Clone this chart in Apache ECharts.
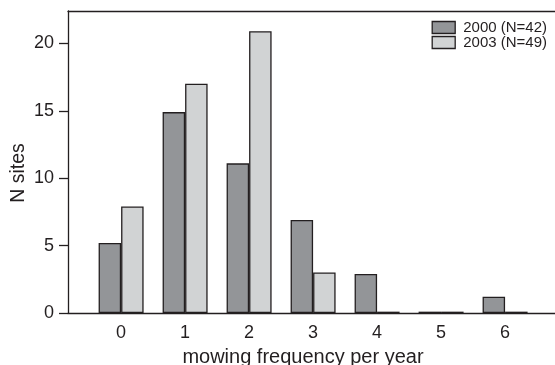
<!DOCTYPE html>
<html>
<head>
<meta charset="utf-8">
<script src="https://cdn.jsdelivr.net/npm/echarts@6/dist/echarts.min.js"></script>
<style>
html, body { margin: 0; padding: 0; background: #fff; }
#chart-panel { width: 555px; height: 365px; }
</style>
</head>
<body>
<div id="chart-panel"></div>
<script>
// mowing frequency classes (per year)
var freqs = [0, 1, 2, 3, 4, 5, 6];
var freqLabels = ['0', '1', '2', '3', '4', '5', '6'];
// N sites per class
var sites2000 = [5.2, 14.9, 11.1, 6.9, 2.9, 0.1, 1.2];
var sites2003 = [7.9, 17.0, 20.9, 3.0, 0.1, 0.1, 0.1];
var seriesNames = ['2000 (N=42)', '2003 (N=49)'];
var yTicks = [0, 5, 10, 15, 20];

var ink = '#231f20';
var font = 'Liberation Sans, Arial, sans-serif';

function pairs(vals){
    return freqs.map(function(f, i){ return [f, vals[i]]; });
}

var opt = {
    backgroundColor: '#fff',
    animation: false,
    grid: { left: 68, top: 11, right: 0, bottom: 52, outerBoundsMode: 'none', containLabel: false },
    legend: {
        orient: 'vertical',
        right: 3,
        top: 15,
        padding: 5,
        itemWidth: 23,
        itemHeight: 12,
        itemGap: 0,
        itemStyle: { borderWidth: 1.3, borderColor: ink },
        icon: 'rect',
        textStyle: { color: ink, fontSize: 15, lineHeight: 15, fontFamily: font, padding: [0, 0, 0, 3] },
        data: seriesNames
    },
    xAxis: [{
        type: 'value',
        min: -0.83,
        max: 6.78,
        splitLine: { show: false },
        axisLine: { show: true, onZero: false, lineStyle: { color: ink, width: 1.3 } },
        axisTick: { show: false },
        axisLabel: {
            customValues: freqs,
            formatter: function(v){ return freqLabels[freqs.indexOf(v)]; },
            color: ink, fontSize: 18, fontFamily: font, margin: 11
        },
        name: 'mowing frequency per year',
        nameLocation: 'middle',
        nameGap: 34,
        nameMoveOverlap: false,
        nameTextStyle: { color: ink, fontSize: 20, fontFamily: font, padding: [0, 17, 0, 0] }
    }, {
        // top frame line
        type: 'value',
        position: 'top',
        min: -0.83,
        max: 6.78,
        splitLine: { show: false },
        axisLine: { show: true, onZero: false, lineStyle: { color: ink, width: 1.3 } },
        axisTick: { show: false },
        axisLabel: { show: false }
    }],
    yAxis: {
        type: 'value',
        min: 0,
        max: 22.4,
        splitLine: { show: false },
        axisLine: { show: true, onZero: false, lineStyle: { color: ink, width: 1.3 } },
        axisTick: {
            show: true, inside: false, length: 9,
            customValues: yTicks,
            lineStyle: { color: ink, width: 1.3 }
        },
        axisLabel: {
            customValues: yTicks,
            color: ink, fontSize: 18, fontFamily: font, margin: 14
        },
        name: 'N sites',
        nameLocation: 'middle',
        nameRotate: 90,
        nameGap: 39,
        nameMoveOverlap: false,
        nameTextStyle: { color: ink, fontSize: 19.5, fontFamily: font, padding: [0, 22, 0, 0] }
    },
    series: [{
        name: seriesNames[0],
        type: 'bar',
        barWidth: 22.5,
        barGap: '0%',
        itemStyle: { color: '#939598', borderColor: ink, borderWidth: 1.3 },
        data: pairs(sites2000)
    }, {
        name: seriesNames[1],
        type: 'bar',
        barWidth: 22.5,
        barGap: '0%',
        itemStyle: { color: '#d1d3d4', borderColor: ink, borderWidth: 1.3 },
        data: pairs(sites2003)
    }]
};

var chart = echarts.init(document.getElementById('chart-panel'));
chart.setOption(opt);
</script>
</body>
</html>
